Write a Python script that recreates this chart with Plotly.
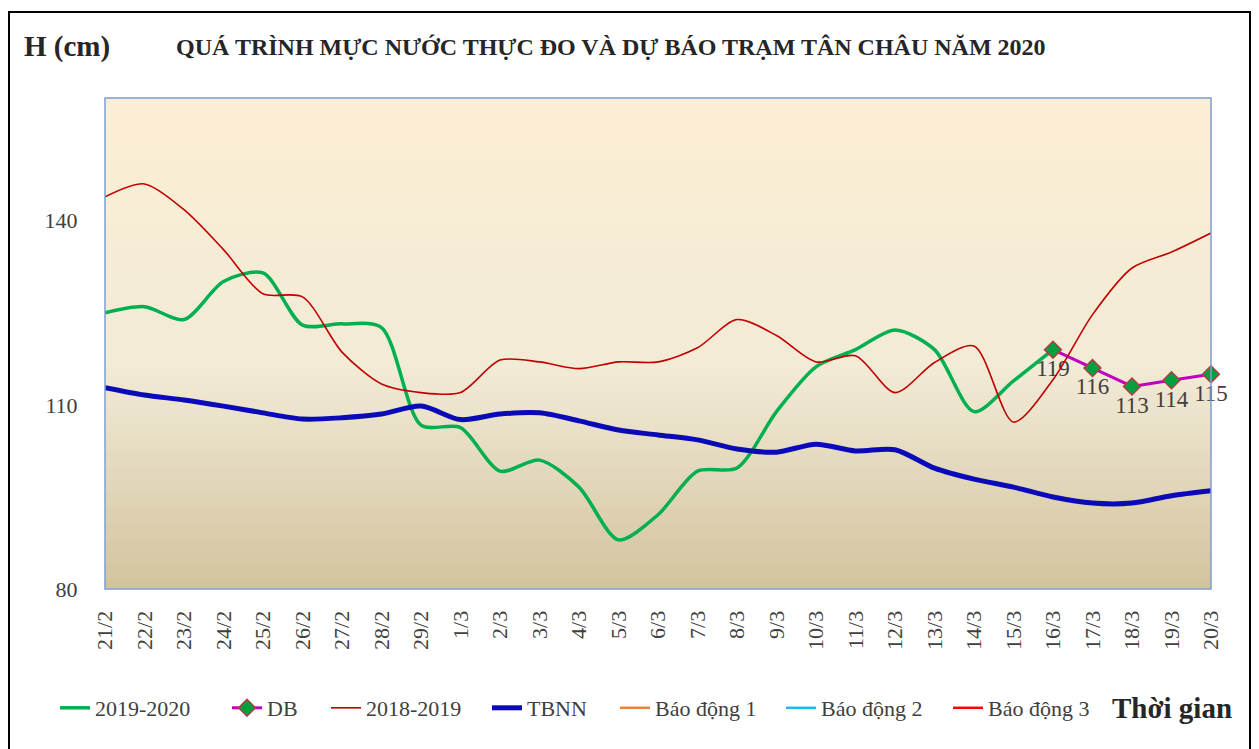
import plotly.graph_objects as go

dates = ["21/2", "22/2", "23/2", "24/2", "25/2", "26/2", "27/2", "28/2", "29/2",
         "1/3", "2/3", "3/3", "4/3", "5/3", "6/3", "7/3", "8/3", "9/3", "10/3",
         "11/3", "12/3", "13/3", "14/3", "15/3", "16/3", "17/3", "18/3", "19/3", "20/3"]

h_2019_2020 = [125.0, 126.0, 123.9, 130.1, 131.5, 123.0, 123.2, 122.6, 106.7,
               106.3, 99.2, 101.0, 96.6, 88.0, 92.1, 99.2, 99.7, 108.9, 116.2,
               119.0, 122.2, 119.0, 108.9, 113.9, 119.0]

db_dates = ["16/3", "17/3", "18/3", "19/3", "20/3"]
db_values = [119, 116, 113, 114, 115]

h_2018_2019 = [143.9, 146.0, 141.8, 135.3, 128.1, 127.6, 118.6, 113.4, 112.0,
               112.0, 117.3, 117.0, 115.9, 117.0, 117.0, 119.3, 123.9, 121.3, 117.0,
               118.0, 112.0, 116.9, 119.6, 107.2, 114.1, 124.7, 132.3, 134.9, 138.0]

tbnn = [112.8, 111.6, 110.8, 109.8, 108.7, 107.7, 107.9, 108.5, 109.8,
        107.6, 108.5, 108.7, 107.4, 105.9, 105.1, 104.3, 102.8, 102.3, 103.6,
        102.5, 102.7, 99.7, 97.9, 96.6, 95.0, 94.0, 94.0, 95.2, 96.0]

# Alarm levels at Tan Chau (cm) - outside the displayed range
bao_dong_1 = 350
bao_dong_2 = 400
bao_dong_3 = 450

y_ticks = [80, 110, 140]
y_range = [80, 160]

SERIF = "Liberation Serif"

# page offset of the plot div (body margin)
OFF = 8
W, H = 1259 - OFF, 749 - OFF
L, T = 105 - OFF, 98 - OFF
R = W - (1211 - OFF)
B = H - (589 - OFF)
pw, ph = W - L - R, H - T - B


def px(x):
    return (x - OFF - L) / pw


def py(y):
    return (H - B - (y - OFF)) / ph


fig = go.Figure()

# Background gradient bands inside the plot area
top = (253, 239, 212)
mid = (242, 235, 215)
bot = (211, 196, 159)
n = 60
for i in range(n):
    f = (i + 0.5) / n  # 0 bottom -> 1 top
    if f >= 0.45:
        t = (f - 0.45) / 0.55
        c = tuple(int(mid[k] + (top[k] - mid[k]) * t) for k in range(3))
    else:
        t = f / 0.45
        c = tuple(int(bot[k] + (mid[k] - bot[k]) * t) for k in range(3))
    fig.add_shape(type="rect", xref="x domain", yref="y domain",
                  x0=0, x1=1, y0=i / n, y1=(i + 1) / n + 0.002,
                  fillcolor="rgb(%d,%d,%d)" % c, line_width=0, layer="below")

fig.add_trace(go.Scatter(x=dates[:len(h_2019_2020)], y=h_2019_2020, name="2019-2020",
                         mode="lines", legend="legend",
                         line=dict(color="#00B050", width=3.5, shape="spline", smoothing=0.8)))
fig.add_trace(go.Scatter(x=db_dates, y=db_values, name="DB", mode="lines+markers+text",
                         legend="legend2",
                         line=dict(color="#C000C0", width=3),
                         marker=dict(symbol="diamond", size=13, color="#00A040",
                                     line=dict(color="#B04040", width=1.5)),
                         text=[str(v) for v in db_values], textposition="bottom center",
                         textfont=dict(family=SERIF, size=23, color="#404040"),
                         cliponaxis=False))
fig.add_trace(go.Scatter(x=dates, y=h_2018_2019, name="2018-2019", mode="lines",
                         legend="legend3",
                         line=dict(color="#C00000", width=1.6, shape="spline", smoothing=0.8)))
fig.add_trace(go.Scatter(x=dates, y=tbnn, name="TBNN", mode="lines", legend="legend4",
                         line=dict(color="#0A0AB8", width=5, shape="spline", smoothing=0.8)))
fig.add_trace(go.Scatter(x=dates, y=[bao_dong_1] * len(dates), name="Báo động 1", mode="lines",
                         legend="legend5", line=dict(color="#F08030", width=2.5)))
fig.add_trace(go.Scatter(x=dates, y=[bao_dong_2] * len(dates), name="Báo động 2", mode="lines",
                         legend="legend6", line=dict(color="#20B8F0", width=2.5)))
fig.add_trace(go.Scatter(x=dates, y=[bao_dong_3] * len(dates), name="Báo động 3", mode="lines",
                         legend="legend7", line=dict(color="#FF0000", width=2.5)))

# plot border
fig.add_shape(type="rect", xref="x domain", yref="y domain", x0=0, x1=1, y0=0, y1=1,
              line=dict(color="#7F9FD0", width=1.5), layer="above")
# outer frame (paper coords)
fig.add_shape(type="rect", xref="paper", yref="paper",
              x0=px(9), x1=px(1250), y0=py(760), y1=py(12),
              line=dict(color="black", width=2), layer="above")

fig.add_annotation(xref="paper", yref="paper", x=px(22), y=py(46), xanchor="left", yanchor="middle",
                   text="<b>H (cm)</b>", showarrow=False,
                   font=dict(family=SERIF, size=29, color="#262626"))
fig.add_annotation(xref="paper", yref="paper", x=px(174), y=py(47), xanchor="left", yanchor="middle",
                   text="<b>QUÁ TRÌNH MỰC NƯỚC THỰC ĐO VÀ DỰ BÁO TRẠM TÂN CHÂU NĂM 2020</b>",
                   showarrow=False, font=dict(family=SERIF, size=24, color="#262626"))
fig.add_annotation(xref="paper", yref="paper", x=px(1234), y=py(708), xanchor="right", yanchor="middle",
                   text="<b>Thời gian</b>", showarrow=False,
                   font=dict(family=SERIF, size=29, color="#262626"))

legend_starts = [55, 227, 326, 487, 615, 781, 948]
legend_common = dict(orientation="h", xanchor="left", yanchor="middle", y=py(708),
                     font=dict(family=SERIF, size=22, color="#404040"),
                     bgcolor="rgba(0,0,0,0)", itemwidth=30)
legends = {}
for k, xs in enumerate(legend_starts):
    key = "legend" if k == 0 else "legend%d" % (k + 1)
    legends[key] = dict(legend_common, x=px(xs))

fig.update_layout(
    width=W, height=H,
    margin=dict(l=L, r=R, t=T, b=B),
    paper_bgcolor="white", plot_bgcolor="rgba(0,0,0,0)",
    font=dict(family=SERIF, color="#404040"),
    showlegend=True,
    xaxis=dict(type="category", categoryorder="array", categoryarray=dates,
               range=[0, len(dates) - 1], showgrid=False, zeroline=False,
               showline=False, ticks="outside", ticklen=12, tickcolor="rgba(0,0,0,0)",
               tickangle=-90, tickfont=dict(family=SERIF, size=22, color="#404040")),
    yaxis=dict(range=y_range, tickvals=y_ticks, showgrid=False, zeroline=False,
               showline=False, ticks="outside", ticklen=22, tickcolor="rgba(0,0,0,0)",
               tickfont=dict(family=SERIF, size=22, color="#404040")),
    **legends,
)

fig.write_html("out.html")
